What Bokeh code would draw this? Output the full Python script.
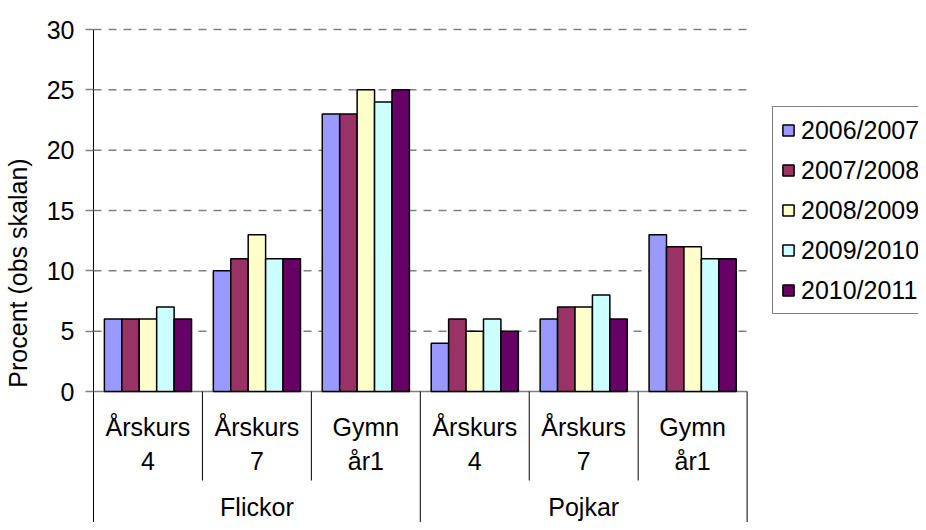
from bokeh.plotting import figure
from bokeh.models import Range1d, FixedTicker, Legend, LegendItem
from bokeh.core.properties import value
from bokeh.embed import file_html
from bokeh.resources import INLINE

# ---- data ----
groups = ["Flickor", "Pojkar"]
grade_line1 = ["Årskurs", "Årskurs", "Gymn"]
grade_line2 = ["4", "7", "år1"]
years = ["2006/2007", "2007/2008", "2008/2009", "2009/2010", "2010/2011"]
v2006 = [6, 10, 23, 4, 6, 13]
v2007 = [6, 11, 23, 6, 7, 12]
v2008 = [6, 13, 25, 5, 7, 12]
v2009 = [7, 11, 24, 6, 8, 11]
v2010 = [6, 11, 25, 5, 6, 11]
yticks = [0, 5, 10, 15, 20, 25, 30]
y_title = "Procent (obs skalan)"

series = [v2006, v2007, v2008, v2009, v2010]
colors = ["#9999FF", "#993366", "#FFFFCC", "#CCFFFF", "#660066"]

# ---- layout constants ----
W, H = 918, 522
LEFT, TOP = 90, 23
FRAME_W = 656
ncat = len(grade_line1) * len(groups)
s = 12.066                     # px per percent unit
y_end = 30.5
y_start = y_end - (H - TOP) / s
x_end = ncat * (W - LEFT) / FRAME_W
FONT = "Liberation Sans"
FS = "25px"
bw = 0.16

p = figure(width=W, height=H, x_range=Range1d(0, x_end), y_range=Range1d(y_start, y_end),
           output_backend="svg", toolbar_location=None, x_axis_location=None,
           min_border_left=LEFT, min_border_top=TOP, min_border_right=0, min_border_bottom=0)
p.outline_line_color = None
p.xgrid.visible = False
p.ygrid.visible = False
p.background_fill_color = "white"
p.border_fill_color = "white"

# dashed gridlines
gl = yticks[1:]
p.segment(x0=[0] * len(gl), x1=[ncat] * len(gl), y0=gl, y1=gl,
          line_color="#808080", line_width=1.5, line_dash="8 7")
# zero line
p.segment(x0=[0], x1=[ncat], y0=[0], y1=[0], line_color="#808080", line_width=1.5)

# bars
renderers = []
for j, (vals, col) in enumerate(zip(series, colors)):
    xs = [i + 0.5 + (j - 2) * bw for i in range(ncat)]
    r = p.vbar(x=xs, top=vals, bottom=0, width=bw, fill_color=col,
               line_color="black", line_width=1.5)
    renderers.append(r)

# category separators
inner = [i for i in range(1, ncat) if i % 3 != 0]
outer = [i for i in range(1, ncat + 1) if i % 3 == 0]
p.segment(x0=inner, x1=inner, y0=[0] * len(inner), y1=[-89 / s] * len(inner),
          line_color="black", line_width=1)
p.segment(x0=outer, x1=outer, y0=[0] * len(outer), y1=[y_start] * len(outer),
          line_color="black", line_width=1)

# category labels
cx = [i + 0.5 for i in range(ncat)]
l1 = grade_line1 * len(groups)
l2 = grade_line2 * len(groups)
common = dict(text_align="center", text_baseline="alphabetic", text_font=value(FONT),
              text_font_size=FS, text_color="black")
p.text(x=cx, y=[-35 / s] * ncat, text=l1, **common)
p.text(x=cx, y=[-69 / s] * ncat, text=l2, **common)
gx = [g * 3 + 1.5 for g in range(len(groups))]
p.text(x=gx, y=[-115 / s] * len(groups), text=groups, **common)

# y axis
ya = p.yaxis[0]
ya.ticker = FixedTicker(ticks=yticks)
ya.bounds = (y_start, 30)
ya.axis_line_color = "black"
ya.axis_line_width = 1
ya.major_tick_out = 8
ya.major_tick_in = 0
ya.major_tick_line_color = "#808080"
ya.major_tick_line_width = 1.5
ya.minor_tick_line_color = None
ya.major_label_text_font = FONT
ya.major_label_text_font_size = FS
ya.major_label_text_color = "black"
ya.major_label_standoff = 11
ya.axis_label = y_title
ya.axis_label_text_font = FONT
ya.axis_label_text_font_size = FS
ya.axis_label_text_font_style = "normal"
ya.axis_label_text_color = "black"
ya.axis_label_standoff = 12

legend = Legend(items=[LegendItem(label=yr, renderers=[r]) for yr, r in zip(years, renderers)],
                location=(679, 208), orientation="vertical",
                label_text_font=FONT, label_text_font_size=FS, label_text_color="black",
                glyph_width=14, glyph_height=14, label_height=30, spacing=10,
                padding=8, label_standoff=6, margin=0,
                border_line_color="black", border_line_width=1,
                background_fill_color="white", background_fill_alpha=1)
p.add_layout(legend, "center")

open("out.html", "w").write(file_html(p, INLINE))
